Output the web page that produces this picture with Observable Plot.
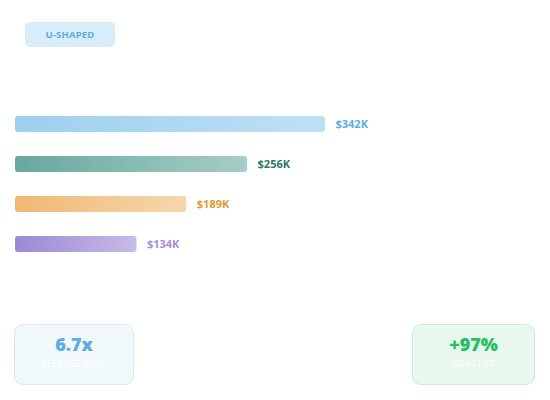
<!DOCTYPE html>
<html><head><meta charset="utf-8">
<script src="https://cdn.jsdelivr.net/npm/d3@7"></script>
<script src="https://cdn.jsdelivr.net/npm/@observablehq/plot@0.6"></script>
<style>
body{margin:0;background:#fff;font-family:"Open Sans",sans-serif;}
#wrap{position:relative;width:550px;height:400px;overflow:hidden;background:#fff;}
#chart{position:absolute;left:0;top:0;}
.badge{position:absolute;left:25px;top:22px;width:90px;height:25px;border-radius:5px;background:#d9ecf9;color:#5dade2;font-size:9.5px;font-weight:700;display:flex;align-items:center;justify-content:center;letter-spacing:0.2px;}
.card{position:absolute;top:324px;height:61px;border-radius:9px;box-sizing:border-box;text-align:center;}
.card .val{position:absolute;left:0;right:0;top:8px;font-size:18px;font-weight:800;line-height:22px;}
.card .sub{position:absolute;left:0;right:0;top:33px;font-size:8.5px;line-height:12px;color:#ffffff;letter-spacing:0.2px;}
#c1{left:14px;width:120px;background:#f0f8fc;border:1.5px solid #d6eaf8;}
#c1 .val{color:#5dade2;}
#c2{left:412px;width:123px;background:#e8f8ee;border:1.5px solid #c9efd7;}
#c2 .val{color:#22c062;}
</style>
</head><body>
<div id="wrap">
  <div id="chart"></div>
  <div class="badge" id="badge"></div>
  <div class="card" id="c1"><div class="val"></div><div class="sub"></div></div>
  <div class="card" id="c2"><div class="val"></div><div class="sub"></div></div>
</div>
<script>
// ---- data ----
const badgeText = "U-SHAPED";
const categories = ["Tier 1", "Tier 2", "Tier 3", "Tier 4"];
const values = [342, 256, 189, 134];
const valueLabels = ["$342K", "$256K", "$189K", "$134K"];
const kpiValues = ["6.7x", "+97%"];
const kpiLabels = ["BLENDED ROAS", "ROAS LIFT"];

// ---- palette ----
const gradStart = ["#9ecfee", "#69a89f", "#f0b873", "#9d88d4"];
const gradEnd = ["#bee0f6", "#a5cdc7", "#f6d7ac", "#c7bbe7"];
const labelColors = ["#5dade2", "#2b7a6c", "#e8962e", "#a98be3"];

const data = categories.map((c, i) => ({
  name: c, value: values[i], label: valueLabels[i],
  grad: `url(#bargrad${i})`, labelColor: labelColors[i]
}));

const plot = Plot.plot({
  width: 550,
  height: 400,
  marginLeft: 15,
  marginRight: 225,
  marginTop: 104,
  marginBottom: 136,
  style: {fontFamily: "'Open Sans', sans-serif", background: "transparent"},
  x: {domain: [0, 342], axis: null},
  y: {domain: categories, axis: null, paddingInner: 0.6, paddingOuter: 0.3},
  color: {type: "identity"},
  marks: [
    Plot.barX(data, {x: "value", y: "name", fill: "grad", rx: 3}),
    Plot.text(data, {x: "value", y: "name", text: "label", fill: "labelColor",
      textAnchor: "start", dx: 10, fontWeight: 700, fontSize: 11})
  ]
});

const ns = "http://www.w3.org/2000/svg";
const defs = document.createElementNS(ns, "defs");
categories.forEach((c, i) => {
  const g = document.createElementNS(ns, "linearGradient");
  g.setAttribute("id", `bargrad${i}`);
  g.setAttribute("x1", "0"); g.setAttribute("x2", "1");
  g.setAttribute("y1", "0"); g.setAttribute("y2", "0");
  [[0, gradStart[i]], [1, gradEnd[i]]].forEach(([o, col]) => {
    const s = document.createElementNS(ns, "stop");
    s.setAttribute("offset", o);
    s.setAttribute("stop-color", col);
    g.appendChild(s);
  });
  defs.appendChild(g);
});
plot.insertBefore(defs, plot.firstChild);
document.getElementById("chart").appendChild(plot);

document.getElementById("badge").textContent = badgeText;
["c1", "c2"].forEach((id, i) => {
  const el = document.getElementById(id);
  el.querySelector(".val").textContent = kpiValues[i];
  el.querySelector(".sub").textContent = kpiLabels[i];
});
</script>
</body></html>
